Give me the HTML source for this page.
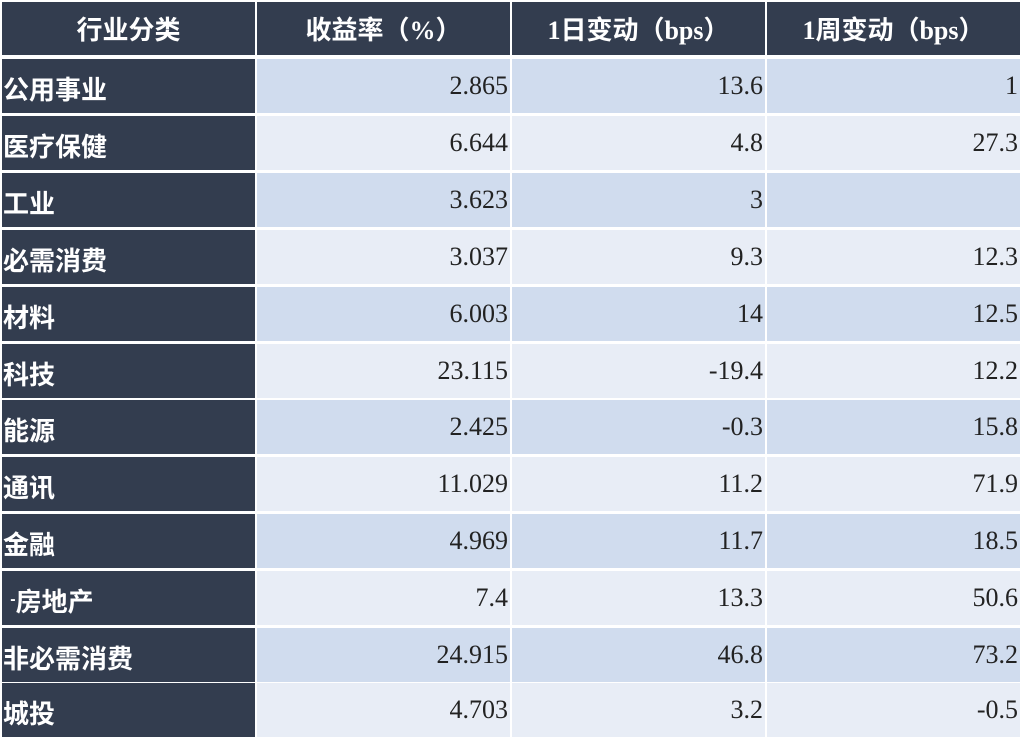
<!DOCTYPE html>
<html><head><meta charset="utf-8"><style>
body{margin:0;width:1027px;height:739px;background:#fff;position:relative;overflow:hidden}
.c{position:absolute;box-sizing:border-box;display:flex;align-items:center;height:54px}
.h{background:#333d4f;color:#fff;font:bold 26px "Liberation Serif","Noto Sans CJK SC",sans-serif;justify-content:center;height:53px;top:2px}
.n{background:#333d4f;color:#fff;font:bold 26px "Liberation Sans","Noto Sans CJK SC",sans-serif;padding-left:1px;padding-top:4px;left:2px;width:253px}
.v{font:26px "Liberation Serif",serif;color:#222;justify-content:flex-end;padding-right:2px;width:253px}
.a{background:#d0dcee}.b{background:#e8edf6}
.x1{left:257px}.x2{left:512px}.x3{left:767px}
</style></head><body>
<div class="c h" style="left:2px;width:253px">行业分类</div>
<div class="c h" style="left:257px;width:253px">收益率（%）</div>
<div class="c h" style="left:512px;width:253px">1日变动（bps）</div>
<div class="c h" style="left:767px;width:253px">1周变动（bps）</div>

<div class="c n" style="top:59px">公用事业</div>
<div class="c v a x1" style="top:59px">2.865</div><div class="c v a x2" style="top:59px">13.6</div><div class="c v a x3" style="top:59px">1</div>

<div class="c n" style="top:116px">医疗保健</div>
<div class="c v b x1" style="top:116px">6.644</div><div class="c v b x2" style="top:116px">4.8</div><div class="c v b x3" style="top:116px">27.3</div>

<div class="c n" style="top:173px">工业</div>
<div class="c v a x1" style="top:173px">3.623</div><div class="c v a x2" style="top:173px">3</div><div class="c v a x3" style="top:173px"></div>

<div class="c n" style="top:230px">必需消费</div>
<div class="c v b x1" style="top:230px">3.037</div><div class="c v b x2" style="top:230px">9.3</div><div class="c v b x3" style="top:230px">12.3</div>

<div class="c n" style="top:287px">材料</div>
<div class="c v a x1" style="top:287px">6.003</div><div class="c v a x2" style="top:287px">14</div><div class="c v a x3" style="top:287px">12.5</div>

<div class="c n" style="top:344px">科技</div>
<div class="c v b x1" style="top:344px">23.115</div><div class="c v b x2" style="top:344px">-19.4</div><div class="c v b x3" style="top:344px">12.2</div>

<div class="c n" style="top:400px">能源</div>
<div class="c v a x1" style="top:400px">2.425</div><div class="c v a x2" style="top:400px">-0.3</div><div class="c v a x3" style="top:400px">15.8</div>

<div class="c n" style="top:457px">通讯</div>
<div class="c v b x1" style="top:457px">11.029</div><div class="c v b x2" style="top:457px">11.2</div><div class="c v b x3" style="top:457px">71.9</div>

<div class="c n" style="top:514px">金融</div>
<div class="c v a x1" style="top:514px">4.969</div><div class="c v a x2" style="top:514px">11.7</div><div class="c v a x3" style="top:514px">18.5</div>

<div class="c n" style="top:571px">&nbsp;<span style="font-size:16px">-</span>房地产</div>
<div class="c v b x1" style="top:571px">7.4</div><div class="c v b x2" style="top:571px">13.3</div><div class="c v b x3" style="top:571px">50.6</div>

<div class="c n" style="top:628px">非必需消费</div>
<div class="c v a x1" style="top:628px">24.915</div><div class="c v a x2" style="top:628px">46.8</div><div class="c v a x3" style="top:628px">73.2</div>

<div class="c n" style="top:683px">城投</div>
<div class="c v b x1" style="top:683px">4.703</div><div class="c v b x2" style="top:683px">3.2</div><div class="c v b x3" style="top:683px">-0.5</div>
</body></html>
